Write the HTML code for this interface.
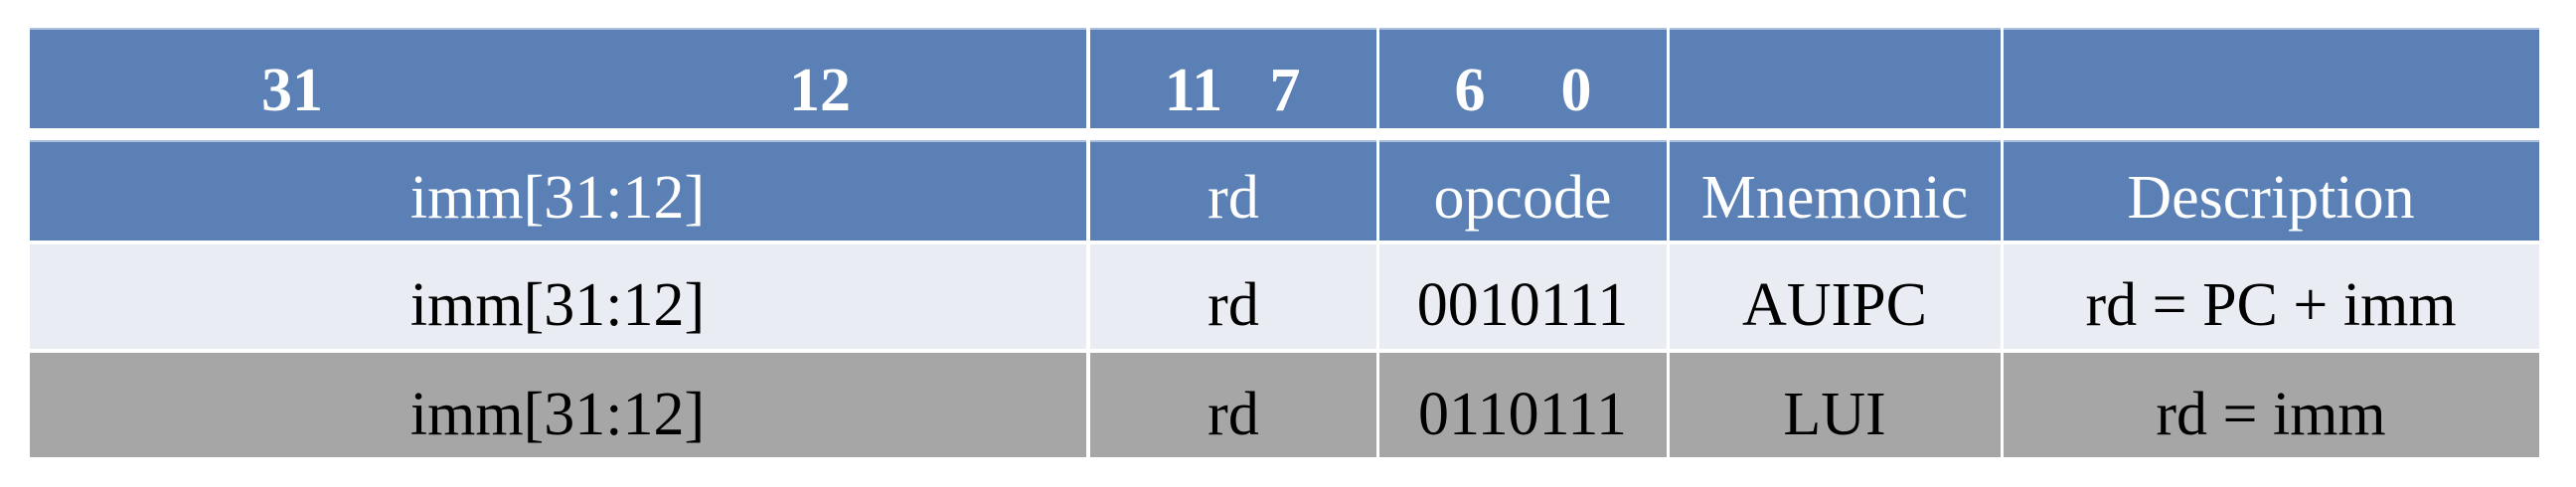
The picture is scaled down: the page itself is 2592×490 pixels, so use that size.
<!DOCTYPE html>
<html><head><meta charset="utf-8"><style>
html,body{margin:0;padding:0;background:#fff;width:2592px;height:490px;overflow:hidden}
.c{position:absolute;box-sizing:border-box}
.b{background:#5a80b6;border-top:2px solid #a9bfdd}
.l{background:#e9ecf3}
.g{background:#a6a6a6}
.t{position:absolute;font-family:"Liberation Serif",serif;font-size:62px;line-height:1;white-space:nowrap;transform:translateX(-50%)}
.w{color:#fff}
.k{color:#000}
.bd{font-weight:bold}
</style></head><body>
<!-- row 1 -->
<div class="c b" style="left:30px;top:28px;width:1063px;height:101px"></div>
<div class="c b" style="left:1097px;top:28px;width:288px;height:101px"></div>
<div class="c b" style="left:1388px;top:28px;width:289px;height:101px"></div>
<div class="c b" style="left:1680px;top:28px;width:333px;height:101px"></div>
<div class="c b" style="left:2016px;top:28px;width:539px;height:101px"></div>
<!-- row 2 -->
<div class="c b" style="left:30px;top:141px;width:1063px;height:101px"></div>
<div class="c b" style="left:1097px;top:141px;width:288px;height:101px"></div>
<div class="c b" style="left:1388px;top:141px;width:289px;height:101px"></div>
<div class="c b" style="left:1680px;top:141px;width:333px;height:101px"></div>
<div class="c b" style="left:2016px;top:141px;width:539px;height:101px"></div>
<!-- row 3 -->
<div class="c l" style="left:30px;top:246px;width:1063px;height:105px"></div>
<div class="c l" style="left:1097px;top:246px;width:288px;height:105px"></div>
<div class="c l" style="left:1388px;top:246px;width:289px;height:105px"></div>
<div class="c l" style="left:1680px;top:246px;width:333px;height:105px"></div>
<div class="c l" style="left:2016px;top:246px;width:539px;height:105px"></div>
<!-- row 4 -->
<div class="c g" style="left:30px;top:355px;width:1063px;height:105px"></div>
<div class="c g" style="left:1097px;top:355px;width:288px;height:105px"></div>
<div class="c g" style="left:1388px;top:355px;width:289px;height:105px"></div>
<div class="c g" style="left:1680px;top:355px;width:333px;height:105px"></div>
<div class="c g" style="left:2016px;top:355px;width:539px;height:105px"></div>

<!-- header numbers (baseline ~104) -->
<div class="t w bd" style="left:294px;top:60px">31</div>
<div class="t w bd" style="left:825px;top:60px">12</div>
<div class="t w bd" style="left:1201px;top:60px">11</div>
<div class="t w bd" style="left:1293px;top:60px">7</div>
<div class="t w bd" style="left:1479px;top:60px">6</div>
<div class="t w bd" style="left:1586px;top:60px">0</div>

<!-- row 2 (baseline ~212) -->
<div class="t w" style="left:561px;top:168px">imm[31:12]</div>
<div class="t w" style="left:1241px;top:168px">rd</div>
<div class="t w" style="left:1532px;top:168px">opcode</div>
<div class="t w" style="left:1846px;top:168px">Mnemonic</div>
<div class="t w" style="left:2285px;top:168px">Description</div>

<!-- row 3 (baseline ~320) -->
<div class="t k" style="left:561px;top:276px">imm[31:12]</div>
<div class="t k" style="left:1241px;top:276px">rd</div>
<div class="t k" style="left:1532px;top:276px">0010111</div>
<div class="t k" style="left:1846px;top:276px">AUIPC</div>
<div class="t k" style="left:2285px;top:276px">rd = PC + imm</div>

<!-- row 4 (baseline ~430) -->
<div class="t k" style="left:561px;top:386px">imm[31:12]</div>
<div class="t k" style="left:1241px;top:386px">rd</div>
<div class="t k" style="left:1532px;top:386px">0110111</div>
<div class="t k" style="left:1846px;top:386px">LUI</div>
<div class="t k" style="left:2285px;top:386px">rd = imm</div>
</body></html>
